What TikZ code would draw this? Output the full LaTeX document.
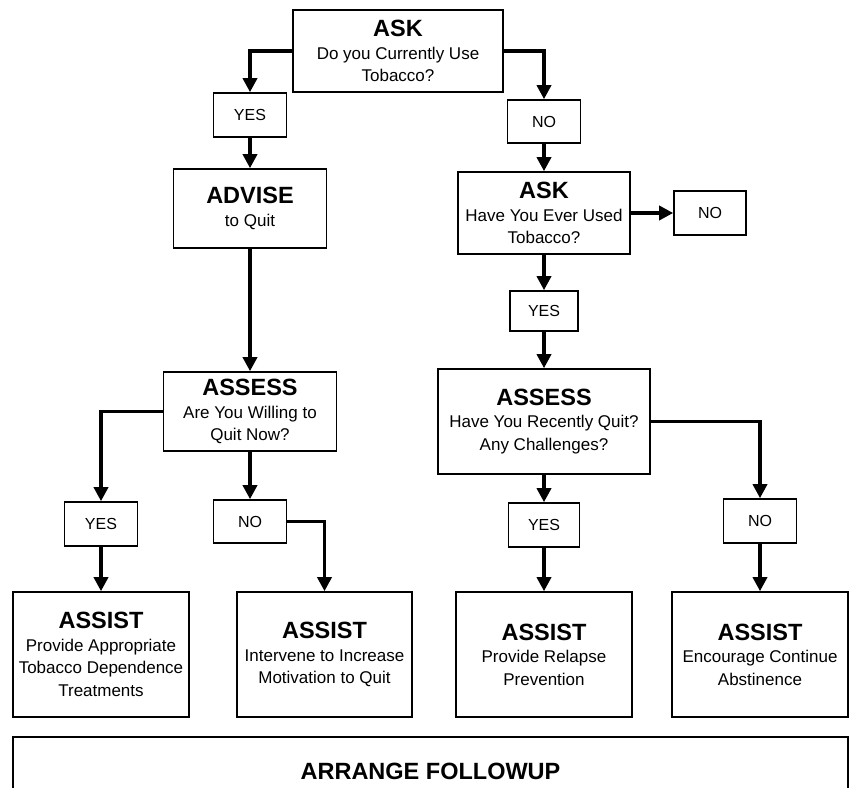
\documentclass[tikz,border=0pt]{standalone}
\usepackage{fontspec}
\setmainfont{Liberation Sans}
\usetikzlibrary{arrows.meta}
\tikzset{%
  box/.style      = {draw, line width=1.6pt, rectangle, align=center,
    inner sep=0pt, font=\fontsize{17}{22.5}\selectfont},
  answer/.style   = {box, minimum width=73pt, minimum height=44pt,
    font=\fontsize{16}{19}\selectfont}, % Yes / No
  assist/.style   = {box, minimum width=176pt, minimum height=125pt}
}
\newcommand{\hd}[1]{{\fontsize{23.5}{26}\selectfont\bfseries #1}}

\begin{document}
\begin{tikzpicture}[
    x=1pt, y=-1pt,
    % Define the style for the connections
    connection/.style={-{Triangle[width=14pt,length=14pt]}, line width=3.4pt},
    ]

    \useasboundingbox (0,0) rectangle (850,787);
    \clip (0,0) rectangle (850,787);

    % First question
    \node[box, minimum width=210pt, minimum height=82pt] (ask-1) at (398,51)
        {\hd{ASK}\\Do you Currently Use\\Tobacco?};
    \node[answer] (yes-1) at (250,115) {YES};
    \node[answer, minimum height=43pt] (no-1) at (544,121.5) {NO};

    % Current users
    \node[box, minimum width=153pt, minimum height=79pt] (advise) at (250,208.5)
        {\hd{ADVISE}\\to Quit};
    \node[box, minimum width=173pt, minimum height=79pt] (assess-l) at (250,411.5)
        {\hd{ASSESS}\\Are You Willing to\\Quit Now?};
    \node[answer] (yes-l) at (101,524) {YES};
    \node[answer, minimum height=43pt] (no-l) at (250,521.5) {NO};

    % Non users
    \node[box, minimum width=172pt, minimum height=82pt] (ask-2) at (544,213)
        {\hd{ASK}\\Have You Ever Used\\Tobacco?};
    \node[answer, minimum width=72pt] (no-2) at (710,213) {NO};
    \node[answer, minimum width=68pt, minimum height=40pt] (yes-2) at (544,311) {YES};
    \node[box, minimum width=212pt, minimum height=105pt] (assess-r) at (544,421.5)
        {\hd{ASSESS}\\Have You Recently Quit?\\Any Challenges?};
    \node[answer, minimum width=71pt] (yes-r) at (544,525) {YES};
    \node[answer] (no-r) at (760,521) {NO};

    % Assist row
    \node[assist] (assist-1) at (101,654.5)
        {\hd{ASSIST}\\Provide Appropriate\\Tobacco Dependence\\Treatments};
    \node[assist, minimum width=175pt] (assist-2) at (324.5,654.5)
        {\hd{ASSIST}\\Intervene to Increase\\Motivation to Quit};
    \node[assist] (assist-3) at (544,654.5)
        {\hd{ASSIST}\\Provide Relapse\\Prevention};
    \node[assist] (assist-4) at (760,654.5)
        {\hd{ASSIST}\\Encourage Continue\\Abstinence};

    % Follow up
    \node[box, minimum width=835pt, minimum height=68pt] (followup) at (430.5,771)
        {\hd{ARRANGE FOLLOWUP}};

    % Connections
    \draw[connection] (ask-1.west) -| (yes-1.north);
    \draw[connection] (ask-1.east) -| (no-1.north);
    \draw[connection] (yes-1) -- (advise);
    \draw[connection] (advise) -- (assess-l);
    \draw[connection] (assess-l.west) -| (yes-l.north);
    \draw[connection] (assess-l) -- (no-l);
    \draw[connection] (yes-l) -- (assist-1);
    \draw[connection] (no-l.east) -| (assist-2.north);
    \draw[connection] (no-1) -- (ask-2);
    \draw[connection] (ask-2) -- (no-2);
    \draw[connection] (ask-2) -- (yes-2);
    \draw[connection] (yes-2) -- (assess-r);
    \draw[connection] (assess-r) -- (yes-r);
    \draw[connection] (assess-r.east) -| (no-r.north);
    \draw[connection] (yes-r) -- (assist-3);
    \draw[connection] (no-r) -- (assist-4);

\end{tikzpicture}
\end{document}
